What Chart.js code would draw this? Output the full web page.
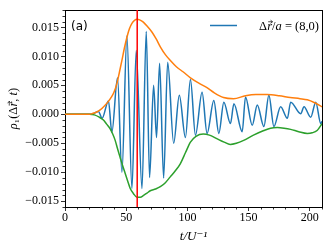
<!DOCTYPE html>
<html><head><meta charset="utf-8">
<script src="https://cdn.jsdelivr.net/npm/chart.js@4"></script>
<style>html,body{margin:0;padding:0;background:#fff}</style>
</head><body>
<canvas id="c" width="333" height="250"></canvas>
<script>
// ---- data ----
const blueT = [0, 20, 23, 27.3, 30.3, 35.5, 38.3, 42.9, 46.5, 50.6, 54.7, 58.2, 62.9, 66.4, 69.1, 72.4, 74.8, 77.3, 80.6, 83.9, 88.8, 93.4, 98.4, 102.5, 106.6, 112, 116.1, 121.6, 125.7, 129.8, 135.2, 138, 144.8, 147.5, 153, 157.1, 162.5, 166.6, 170.7, 176.2, 181.7, 184.4, 192.6, 195.3, 200.8, 204.9, 209, 210];
const blueV = [0, 0, 0.0001, 0.0005, -0.0007, 0.0023, -0.0031, 0.0063, -0.0100, 0.0135, -0.0128, 0.0110, -0.0128, 0.0143, -0.0109, 0.0050, -0.0040, 0.0088, -0.0110, 0.0090, -0.0050, 0.0033, -0.0040, 0.0060, -0.0036, 0.0038, -0.0033, 0.0024, -0.0033, 0.0021, -0.0016, 0.0018, -0.0030, 0.0030, -0.0019, 0.0016, -0.0021, 0.0033, -0.0021, 0.0013, -0.0007, 0.0021, 0.0001, 0.0013, -0.0005, 0.0021, -0.0016, -0.0012];
const orangeT = [0, 20, 22, 26, 29, 32, 35, 38, 40, 42.4, 44.5, 46.5, 48.5, 50.6, 52.7, 54.7, 56.8, 58.8, 61, 64, 67.5, 71, 74.5, 78, 82, 86, 91, 96.7, 102.5, 110, 116, 122, 129.5, 137.7, 147.5, 156, 165, 175, 184, 192, 198, 204, 210];
const orangeV = [0, 0, 0.0001, 0.0004, 0.0008, 0.0014, 0.0021, 0.0030, 0.0038, 0.0053, 0.0073, 0.0093, 0.0114, 0.0133, 0.0148, 0.0157, 0.0162, 0.0164, 0.0163, 0.0159, 0.0151, 0.0142, 0.0130, 0.0116, 0.0103, 0.0093, 0.0082, 0.0073, 0.0063, 0.0053, 0.0046, 0.0037, 0.0029, 0.0027, 0.0032, 0.0034, 0.0034, 0.0032, 0.0029, 0.0027, 0.0025, 0.0020, 0.0013];
const greenT = [0, 20, 24, 28, 31.4, 34, 36.9, 39, 41, 43, 45, 47, 49.2, 51.2, 53.3, 56, 58.8, 61.5, 64.2, 67, 69.7, 74, 77.9, 82, 86, 90, 94.3, 98.5, 102.5, 107, 113, 118, 124, 130, 135, 140, 146, 154, 162.5, 168, 173.5, 179, 184.4, 191, 198, 202, 206, 210];
const greenV = [0, 0, -0.0001, -0.0005, -0.0010, -0.0017, -0.0025, -0.0034, -0.0045, -0.0060, -0.0074, -0.0088, -0.0102, -0.0115, -0.0128, -0.0137, -0.0143, -0.0143, -0.0140, -0.0136, -0.0132, -0.0129, -0.0125, -0.0118, -0.0108, -0.0098, -0.0085, -0.0066, -0.0048, -0.0038, -0.0034, -0.0036, -0.0042, -0.0048, -0.0052, -0.0050, -0.0045, -0.0036, -0.0028, -0.0024, -0.0023, -0.0024, -0.0026, -0.0030, -0.0033, -0.0032, -0.0028, -0.0016];
const markerT = 59;
const xTicks = [0, 50, 100, 150, 200];
const yTicks = [-0.015, -0.010, -0.005, 0.000, 0.005, 0.010, 0.015];
const xRange = [0, 210];
const yRange = [-0.016, 0.018];
const panelLabel = '(a)';
// legend text pieces: [text, italic?]
const legendParts = [['Δ', false], ['r', true], ['/', false], ['a', true], [' = ', false], ['(8,0)', false]];
const yTitleParts = [['ρ', true], ['₁', false], ['(Δ', false], ['r', true], [', ', false], ['t', true], [')', false]];

const pts = (T, V) => T.map((t, i) => ({x: t, y: V[i]}));
const SERIF = '"Liberation Serif", "DejaVu Serif", serif';
const BLUE = '#1f77b4';

function drawMath(ctx, parts, x, y, size, arrowOn) {
  // draws math-like text left-aligned at baseline y; returns total width
  let cx = x;
  for (const [txt, it] of parts) {
    ctx.font = (it ? 'italic ' : '') + size + 'px ' + SERIF;
    const w = ctx.measureText(txt).width;
    ctx.fillText(txt, cx, y);
    if (txt === arrowOn) {
      const ay = y - size * 0.62, x0 = cx + 1, x1 = cx + w + 0.5;
      ctx.beginPath();
      ctx.moveTo(x0, ay); ctx.lineTo(x1, ay);
      ctx.moveTo(x1 - 2, ay - 1.6); ctx.lineTo(x1, ay); ctx.lineTo(x1 - 2, ay + 1.6);
      ctx.stroke();
    }
    cx += w;
  }
  return cx - x;
}
function mathWidth(ctx, parts, size) {
  let w = 0;
  for (const [txt, it] of parts) { ctx.font = (it ? 'italic ' : '') + size + 'px ' + SERIF; w += ctx.measureText(txt).width; }
  return w;
}

const decor = {
  id: 'decor',
  afterDraw(chart) {
    const {ctx, scales: {x, y}, chartArea: a} = chart;
    ctx.save();
    ctx.strokeStyle = '#000';
    ctx.lineWidth = 0.8;
    ctx.beginPath();
    for (let v = xRange[0]; v <= xRange[1] + 1e-9; v += 10) {
      if (Math.abs(v % 50) < 1e-9) continue;
      const px = Math.round(x.getPixelForValue(v)) + 0.5;
      ctx.moveTo(px, a.bottom); ctx.lineTo(px, a.bottom + 2.5);
    }
    for (let k = Math.ceil(yRange[0] * 1000); k <= Math.floor(yRange[1] * 1000); k++) {
      if (k % 5 === 0) continue;
      const py = Math.round(y.getPixelForValue(k / 1000)) + 0.5;
      ctx.moveTo(a.left, py); ctx.lineTo(a.left - 2.5, py);
    }
    ctx.stroke();
    ctx.fillStyle = '#000';
    ctx.textBaseline = 'alphabetic';
    ctx.textAlign = 'left';
    // panel label
    ctx.font = '12px "DejaVu Sans"';
    ctx.fillText(panelLabel, a.left + 6, a.top + 20);
    // legend
    const ly = a.top + 15.5;
    ctx.save();
    ctx.strokeStyle = BLUE; ctx.lineWidth = 1.5;
    ctx.beginPath(); ctx.moveTo(a.right - 112, ly); ctx.lineTo(a.right - 85, ly); ctx.stroke();
    ctx.restore();
    ctx.lineWidth = 0.7;
    const lsize = 12.5;
    const lw = mathWidth(ctx, legendParts, lsize);
    drawMath(ctx, legendParts, a.right - 3 - lw, ly + 4, lsize, 'r');
    // y-axis title (rotated)
    const tsize = 12.5;
    const tw = mathWidth(ctx, yTitleParts, tsize);
    ctx.save();
    ctx.translate(17, (a.top + a.bottom) / 2 + tw / 2);
    ctx.rotate(-Math.PI / 2);
    drawMath(ctx, yTitleParts, 0, 0, tsize, 'r');
    ctx.restore();
    ctx.restore();
  }
};

new Chart(document.getElementById('c'), {
  type: 'line',
  data: {
    datasets: [
      {label: 'marker', data: [{x: markerT, y: yRange[0]}, {x: markerT, y: yRange[1]}], borderColor: '#ff0000', borderWidth: 1.5, pointRadius: 0},
      {label: 'upper', data: pts(orangeT, orangeV), borderColor: '#ff7f0e', borderWidth: 1.5, pointRadius: 0, cubicInterpolationMode: 'monotone'},
      {label: 'lower', data: pts(greenT, greenV), borderColor: '#2ca02c', borderWidth: 1.5, pointRadius: 0, cubicInterpolationMode: 'monotone'},
      {label: 'Δr/a = (8,0)', data: pts(blueT, blueV), borderColor: BLUE, borderWidth: 1.5, pointRadius: 0, cubicInterpolationMode: 'monotone'}
    ]
  },
  options: {
    responsive: false,
    animation: false,
    layout: {padding: 0},
    plugins: {tooltip: {enabled: false}, legend: {display: false}},
    scales: {
      x: {
        type: 'linear', position: 'bottom', min: xRange[0], max: xRange[1],
        afterBuildTicks: s => { s.ticks = xTicks.map(v => ({value: v})); },
        afterFit: s => { s.height = 43; },
        ticks: {color: '#000', font: {family: SERIF, size: 12}, padding: 0, maxRotation: 0, autoSkip: false},
        grid: {drawOnChartArea: false, drawTicks: true, tickLength: 4, tickColor: '#000', tickWidth: 0.8},
        border: {display: true, color: '#000', width: 1},
        title: {display: true, text: 't/U⁻¹', color: '#000', font: {family: SERIF, size: 13, style: 'italic'}, padding: {top: 0, bottom: 6}}
      },
      x2: {
        type: 'linear', position: 'top', min: xRange[0], max: xRange[1],
        afterFit: s => { s.height = 10; },
        ticks: {display: false}, grid: {display: false, drawTicks: false},
        border: {display: true, color: '#000', width: 1}
      },
      y: {
        type: 'linear', position: 'left', min: yRange[0], max: yRange[1],
        afterBuildTicks: s => { s.ticks = yTicks.map(v => ({value: v})); },
        afterFit: s => { s.width = 65; },
        ticks: {color: '#000', font: {family: SERIF, size: 12}, padding: 2, autoSkip: false,
          callback: v => (v < 0 ? '\u2212' : '') + Math.abs(v).toFixed(3)},
        grid: {drawOnChartArea: false, drawTicks: true, tickLength: 4, tickColor: '#000', tickWidth: 0.8},
        border: {display: true, color: '#000', width: 1}
      },
      y2: {
        type: 'linear', position: 'right', min: yRange[0], max: yRange[1],
        afterFit: s => { s.width = 11; },
        ticks: {display: false}, grid: {display: false, drawTicks: false},
        border: {display: true, color: '#000', width: 1}
      }
    }
  },
  plugins: [decor]
});
</script>
</body></html>
